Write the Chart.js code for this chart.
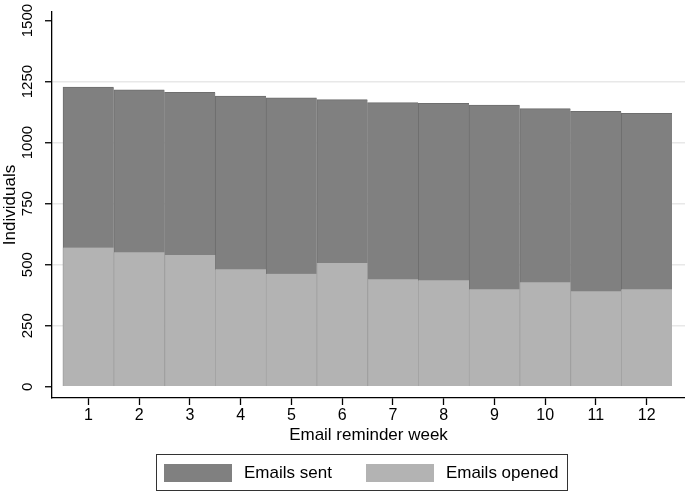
<!DOCTYPE html>
<html>
<head>
<meta charset="utf-8">
<title>Email reminders</title>
<script src="https://cdn.jsdelivr.net/npm/chart.js@4.4.1/dist/chart.umd.min.js"></script>
<style>
    body { margin: 0; background: #fff; }
    #wrap { position: relative; width: 685px; height: 492px; }
    #legend {
        position: absolute; left: 156px; top: 454px; width: 412px; height: 37px;
        box-sizing: border-box; border: 1px solid #333;
        display: flex; align-items: center; padding-left: 7px;
        font: 17px "Liberation Sans", Arial, Helvetica, sans-serif; color: #000;
        white-space: nowrap;
    }
    .item { display: flex; align-items: center; margin-right: 34px; flex-shrink: 0; }
    .sw { display: inline-block; width: 68px; height: 18px; margin-right: 12px; flex-shrink: 0; }
</style>
</head>
<body>
<div id="wrap">
    <canvas id="barChart"></canvas>
    <div id="legend"></div>
</div>
<script>
const weeks = [1, 2, 3, 4, 5, 6, 7, 8, 9, 10, 11, 12];
const emailsSent = [1227, 1216, 1206, 1191, 1183, 1176, 1164, 1161, 1154, 1139, 1128, 1120];
const emailsOpened = [570, 551, 540, 481, 463, 507, 440, 436, 399, 428, 391, 399];
const yTicks = [0, 250, 500, 750, 1000, 1250, 1500];

Chart.defaults.font.family = '"Liberation Sans", Arial, Helvetica, sans-serif';
Chart.defaults.color = '#000';

// legend drawn as html box under the canvas
const htmlLegend = {
    id: 'htmlLegend',
    afterUpdate(chart) {
        const box = document.getElementById('legend');
        box.innerHTML = '';
        chart.data.datasets.forEach(ds => {
            const item = document.createElement('div');
            item.className = 'item';
            const sw = document.createElement('span');
            sw.className = 'sw';
            sw.style.background = ds.backgroundColor;
            const txt = document.createElement('span');
            txt.textContent = ds.label;
            item.append(sw, txt);
            box.append(item);
        });
    }
};

function toPoints(values) {
    return weeks.map((w, i) => ({ x: w, y: values[i] }));
}

const ctx = document.getElementById('barChart').getContext('2d');
new Chart(ctx, {
    type: 'bar',
    data: {
        datasets: [{
            label: 'Emails sent',
            data: toPoints(emailsSent),
            backgroundColor: '#808080',
            borderColor: '#6e6e6e',
            borderWidth: { top: 1, left: 1, right: 0, bottom: 0 },
            grouped: false,
            order: 1,
            barPercentage: 1,
            categoryPercentage: 1
        }, {
            label: 'Emails opened',
            data: toPoints(emailsOpened),
            backgroundColor: '#b3b3b3',
            borderColor: '#a3a3a3',
            borderWidth: { top: 0, left: 1, right: 0, bottom: 0 },
            grouped: false,
            order: 0,
            barPercentage: 1,
            categoryPercentage: 1
        }]
    },
    options: {
        responsive: true,
        maintainAspectRatio: false,
        animation: false,
        layout: { padding: { top: 12, bottom: 44, left: 0, right: 0 } },
        plugins: {
            legend: { display: false },
            tooltip: { enabled: false }
        },
        scales: {
            x: {
                type: 'linear',
                offset: false,
                min: 0.283,
                max: 12.756,
                afterBuildTicks: s => { s.ticks = weeks.map(v => ({ value: v })); },
                afterFit: s => { s.height = 50; },
                ticks: {
                    autoSkip: false,
                    maxRotation: 0,
                    padding: 1,
                    font: { size: 16 },
                    callback: v => String(v)
                },
                grid: { offset: false, drawOnChartArea: false, tickLength: 7, tickColor: '#000', tickWidth: 1.3 },
                border: { color: '#000', width: 1.3 },
                title: {
                    display: true,
                    text: 'Email reminder week',
                    font: { size: 17 },
                    padding: { top: 0, bottom: 2.3 }
                }
            },
            y: {
                min: -46,
                max: 1535,
                afterBuildTicks: s => { s.ticks = yTicks.map(v => ({ value: v })); },
                afterFit: s => { s.width = 52; },
                ticks: {
                    minRotation: 90,
                    maxRotation: 90,
                    crossAlign: 'center',
                    padding: 0,
                    font: { size: 15 },
                    callback: v => String(v)
                },
                grid: {
                    color: c => (c.tick && (c.tick.value === 0 || c.tick.value === 1500)) ? 'rgba(0,0,0,0)' : '#e8e8e8',
                    lineWidth: 1.5,
                    tickLength: 7,
                    tickColor: '#000',
                    tickWidth: 1.3
                },
                border: { color: '#000', width: 1.3 },
                title: {
                    display: true,
                    text: 'Individuals',
                    font: { size: 17 },
                    padding: 0
                }
            }
        }
    },
    plugins: [htmlLegend]
});
</script>
</body>
</html>
